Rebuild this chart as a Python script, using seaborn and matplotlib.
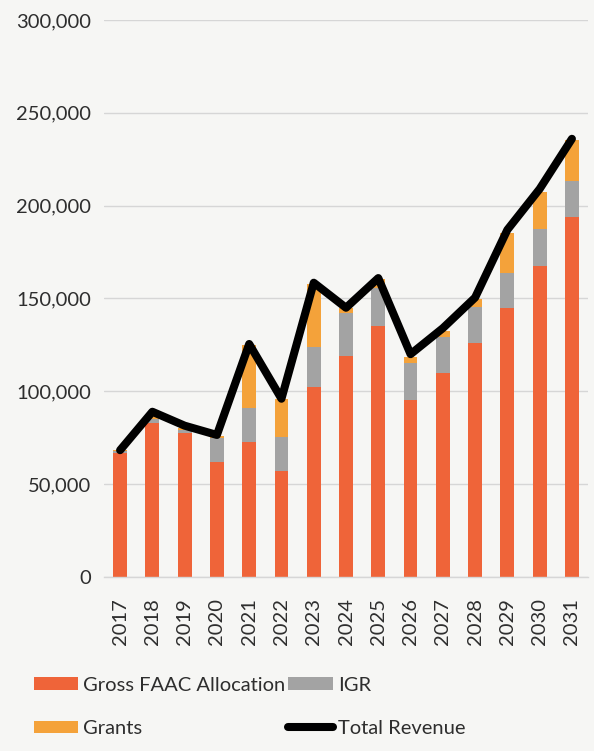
import numpy as np
import pandas as pd
import matplotlib
matplotlib.use("Agg")
import matplotlib.pyplot as plt
from matplotlib.ticker import FuncFormatter
from matplotlib.lines import Line2D
from matplotlib.patches import Patch
import seaborn as sns

# Revenue by year
years = ["2017", "2018", "2019", "2020", "2021", "2022", "2023", "2024",
         "2025", "2026", "2027", "2028", "2029", "2030", "2031"]
faac = [66800, 83000, 77600, 62000, 72800, 57100, 102400, 119100,
        135300, 95400, 110000, 126100, 145000, 167600, 194000]
igr = [1000, 2200, 1500, 13000, 18200, 18400, 21600, 23200,
       20500, 19900, 19400, 19400, 18900, 20000, 19400]
grants = [500, 2000, 1000, 1000, 34000, 20300, 34000, 2500,
          4500, 3300, 3000, 4000, 21500, 20000, 22200]
total = [68300, 89000, 81500, 76500, 125500, 96000, 158500, 145000,
         161000, 120000, 134000, 150500, 187000, 209000, 236000]

yticks = [0, 50000, 100000, 150000, 200000, 250000, 300000]

C_FAAC = "#ef6439"
C_IGR = "#a3a3a3"
C_GRANTS = "#f4a23a"
BG = "#f6f6f4"
TXT = "#2e2e2e"
FS = 14.5

sns.set_theme(style="white")
plt.rcParams["font.family"] = ["Lato", "DejaVu Sans"]

df = pd.DataFrame({"year": years, "faac": faac, "igr": igr,
                   "grants": grants, "total": total})
df["base_grants"] = df["faac"] + df["igr"]

fig = plt.figure(figsize=(5.94, 7.51), dpi=100, facecolor=BG)
ax = fig.add_axes([0.175, 0.2317, 0.815, 0.7417])
ax.set_facecolor(BG)

bw = 0.43
sns.barplot(data=df, x="year", y="faac", color=C_FAAC, width=bw,
            saturation=1, ax=ax, linewidth=0, zorder=2)
sns.barplot(data=df, x="year", y="igr", bottom=df["faac"], color=C_IGR,
            width=bw, saturation=1, ax=ax, linewidth=0, zorder=2)
sns.barplot(data=df, x="year", y="grants", bottom=df["base_grants"],
            color=C_GRANTS, width=bw, saturation=1, ax=ax, linewidth=0,
            zorder=2)
sns.lineplot(data=df, x="year", y="total", color="black", linewidth=5.8,
             sort=False, ax=ax, zorder=3, solid_joinstyle="round",
             solid_capstyle="round")

ax.set_ylim(0, 300000)
ax.set_xlim(-0.5, len(years) - 0.5)
ax.set_yticks(yticks)
ax.yaxis.set_major_formatter(FuncFormatter(lambda v, p: f"{int(v):,}"))
ax.grid(axis="y", color="#d6d6d6", linewidth=1.0, zorder=0)
ax.set_axisbelow(True)
ax.set_xlabel("")
ax.set_ylabel("")
for s in ["top", "right", "left"]:
    ax.spines[s].set_visible(False)
ax.spines["bottom"].set_color("#d6d6d6")
ax.spines["bottom"].set_linewidth(1.0)
ax.tick_params(axis="both", length=0, labelsize=FS, colors=TXT)
ax.tick_params(axis="y", pad=9)
ax.tick_params(axis="x", pad=15)
plt.setp(ax.get_xticklabels(), rotation=90)

handles = [
    Patch(facecolor=C_FAAC, edgecolor="none"),
    Patch(facecolor=C_GRANTS, edgecolor="none"),
    Patch(facecolor=C_IGR, edgecolor="none"),
    Line2D([0], [0], color="black", linewidth=5.8, solid_capstyle="round"),
]
labels = ["Gross FAAC Allocation", "Grants", "IGR", "Total Revenue"]
fig.legend(handles, labels, loc="upper left", bbox_to_anchor=(0.04, 0.112),
           ncol=2, frameon=False, fontsize=FS, handlelength=2.2,
           handleheight=0.6, handletextpad=0.25, columnspacing=0.15,
           labelspacing=1.3, borderpad=0, labelcolor=TXT)

fig.savefig("out.png", dpi=100, facecolor=BG)
